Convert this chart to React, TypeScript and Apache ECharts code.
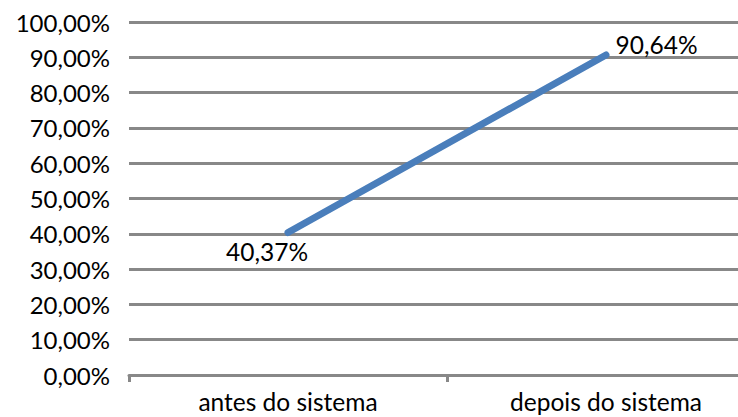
import React, { useEffect, useRef } from "react";
import * as echarts from "echarts";

// Categories and measured values (percent)
const categories = ["antes do sistema", "depois do sistema"];
const values = [40.37, 90.64];
const yTicks = [0, 10, 20, 30, 40, 50, 60, 70, 80, 90, 100];

const fmt = (v: number) => v.toFixed(2).replace(".", ",") + "%";

const FONT = "Lato";
const GRID_COLOR = "#888888";

export default function App() {
  const ref = useRef<HTMLDivElement>(null);

  useEffect(() => {
    if (!ref.current) return;
    const chart = echarts.init(ref.current, null, { renderer: "svg" });
    chart.setOption({
      animation: false,
      grid: { left: 129, top: 22, width: 636, height: 353, outerBoundsMode: "none", containLabel: false },
      xAxis: {
        type: "category",
        data: categories,
        boundaryGap: true,
        axisLine: { show: true, lineStyle: { color: GRID_COLOR, width: 3 } },
        axisTick: { show: true, length: 7, lineStyle: { color: GRID_COLOR, width: 3 } },
        axisLabel: { color: "#000", fontFamily: FONT, fontSize: 24.5, margin: 14 },
      },
      yAxis: {
        type: "value",
        min: yTicks[0],
        max: yTicks[yTicks.length - 1],
        interval: 10,
        axisLine: { show: false },
        axisTick: { show: false },
        splitLine: { show: true, lineStyle: { color: GRID_COLOR, width: 3 } },
        axisLabel: {
          color: "#000",
          fontFamily: FONT,
          fontSize: 24,
          margin: 19,
          formatter: (v: number) => fmt(v),
        },
      },
      series: [
        {
          type: "line",
          data: values.map((v, i) => ({
            value: v,
            label:
              i === 0
                ? { position: "bottom", offset: [-21, 1] }
                : { position: "right", offset: [4, -11] },
          })),
          showSymbol: true,
          symbol: "circle",
          symbolSize: 1,
          itemStyle: { color: "#4a7ebb" },
          lineStyle: { color: "#4a7ebb", width: 7, cap: "round" },
          label: {
            show: true,
            color: "#000",
            fontFamily: FONT,
            fontSize: 24.5,
            formatter: (p: any) => fmt(p.value),
          },
        },
      ],
    });
    return () => chart.dispose();
  }, []);

  return (
    <div
      ref={ref}
      style={{ position: "absolute", left: 0, top: 0, width: 738, height: 417, background: "#fff" }}
    />
  );
}
